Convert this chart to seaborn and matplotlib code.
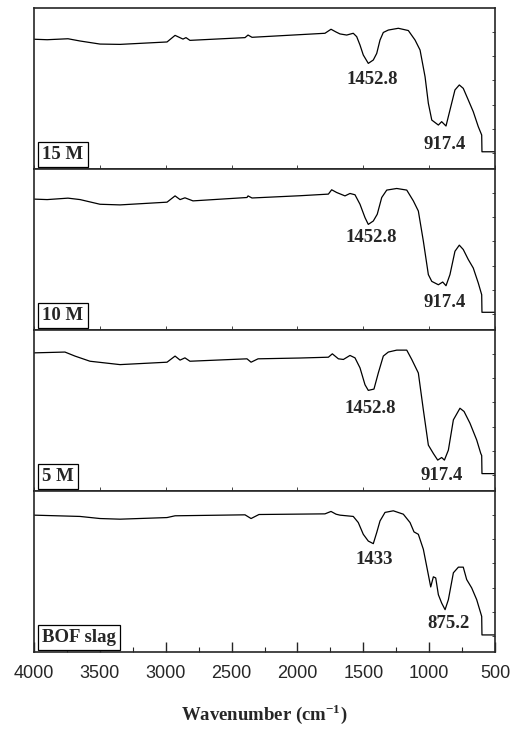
import numpy as np
import pandas as pd
import matplotlib
matplotlib.use("Agg")
import matplotlib.pyplot as plt
from matplotlib.ticker import MultipleLocator
import seaborn as sns

# ---------------- data ----------------
panel_labels = ["15 M", "10 M", "5 M", "BOF slag"]

wn_15m = [4000, 3900, 3742, 3650, 3499, 3347, 2990, 2929, 2869, 2846, 2816, 2398, 2375, 2345,
          1791, 1745, 1707, 1677, 1626, 1576, 1550, 1525, 1500, 1462, 1424, 1398, 1373,
          1348, 1310, 1234, 1158, 1107, 1069, 1031, 1006, 980, 930, 905, 872, 842, 804,
          771, 741, 703, 665, 627, 601, 599, 500]
t_15m = [80.6, 80.3, 80.9, 79.5, 77.6, 77.4, 78.9, 83.0, 80.7, 81.6, 79.9, 81.6, 83.2, 81.8,
         84.3, 86.8, 85.1, 83.9, 83.2, 84.3, 82.2, 77.0, 70.8, 65.6, 67.7, 71.8, 80.1,
         84.8, 86.3, 87.4, 86.0, 80.1, 73.9, 57.3, 40.8, 30.4, 27.3, 29.4, 26.7, 36.6,
         49.1, 52.2, 50.1, 42.9, 35.6, 26.3, 21.1, 10.7, 10.7]

wn_10m = [4000, 3900, 3742, 3650, 3499, 3347, 2990, 2929, 2891, 2854, 2793, 2383, 2375, 2345,
          1980, 1765, 1740, 1702, 1639, 1601, 1563, 1525, 1487, 1462, 1424, 1394, 1360,
          1322, 1246, 1170, 1120, 1082, 1044, 1006, 980, 930, 897, 872, 842, 804, 771,
          741, 703, 665, 627, 601, 599, 500]
t_10m = [81.3, 81.0, 81.9, 81.0, 78.1, 77.7, 79.4, 83.3, 81.0, 82.1, 80.2, 82.3, 83.3, 82.0,
         83.4, 84.4, 87.1, 85.4, 83.3, 84.8, 84.0, 78.1, 69.8, 65.6, 67.7, 71.9, 82.3,
         86.9, 87.9, 86.9, 80.2, 73.9, 55.2, 34.4, 30.2, 28.1, 29.8, 27.5, 34.4, 48.9,
         52.7, 50.0, 43.8, 38.5, 29.2, 21.9, 11.0, 11.0]

wn_5m = [4000, 3765, 3689, 3575, 3347, 2990, 2929, 2891, 2854, 2816, 2383, 2352, 2299,
         1980, 1765, 1735, 1689, 1651, 1601, 1563, 1525, 1487, 1462, 1419, 1386, 1348,
         1310, 1246, 1170, 1132, 1082, 1044, 1006, 968, 935, 905, 884, 854, 816, 766,
         735, 690, 639, 608, 601, 599, 500]
t_5m = [85.8, 86.3, 83.8, 80.6, 78.5, 80.0, 83.8, 81.3, 82.7, 80.6, 82.1, 80.0, 82.1,
        82.6, 83.1, 85.2, 82.1, 81.7, 84.2, 82.7, 76.5, 66.0, 62.5, 63.3, 73.3, 83.8,
        86.3, 87.5, 87.5, 81.7, 73.3, 50.4, 28.5, 23.3, 19.2, 20.8, 19.2, 25.4, 44.2,
        51.4, 49.4, 42.1, 31.7, 23.3, 22.0, 10.8, 10.8]

wn_bof = [4000, 3651, 3499, 3347, 2990, 2929, 2398, 2352, 2292, 1791, 1745, 1707, 1677,
          1576, 1538, 1500, 1462, 1424, 1398, 1373, 1335, 1272, 1196, 1145, 1115, 1082,
          1044, 1014, 988, 968, 950, 930, 905, 879, 854, 816, 778, 741, 715, 677, 639,
          601, 599, 500]
t_bof = [85.0, 84.2, 82.9, 82.5, 83.5, 84.6, 85.2, 82.9, 85.4, 85.8, 87.3, 85.6, 85.0,
         84.2, 80.4, 73.1, 68.9, 67.3, 74.2, 81.4, 86.7, 87.7, 85.6, 80.4, 74.6, 73.1,
         63.8, 51.3, 40.4, 46.7, 46.0, 35.6, 30.4, 26.3, 32.5, 49.2, 52.7, 52.7, 45.0,
         39.8, 32.5, 22.1, 10.6, 10.6]

# peak annotations: (text, wavenumber, value) per panel
peak_text = [["1452.8", "917.4"], ["1452.8", "917.4"], ["1452.8", "917.4"], ["1433", "875.2"]]
peak_wn = [[1434, 880], [1441, 880], [1449, 905], [1419, 851]]
peak_y = [[55.9, 15.5], [57.3, 17.1], [51.0, 9.4], [57.5, 17.9]]

x_ticks = [4000, 3500, 3000, 2500, 2000, 1500, 1000, 500]

# ---------------- plotting ----------------
sns.set_style("ticks")
plt.rcParams["font.family"] = ["Liberation Serif", "DejaVu Serif"]
plt.rcParams["mathtext.fontset"] = "custom"
plt.rcParams["mathtext.rm"] = "Liberation Serif"
plt.rcParams["mathtext.bf"] = "Liberation Serif:bold"

fig = plt.figure(figsize=(5.12, 7.30), dpi=100)

series = [(wn_15m, t_15m), (wn_10m, t_10m), (wn_5m, t_5m), (wn_bof, t_bof)]
left, width = 34 / 512, 461 / 512
tops_px = [8, 169, 330, 491]
h_px = 161

serif_bold = dict(family=["Liberation Serif", "DejaVu Serif"], weight="bold", size=13.5)

for i, ((wn, tv), lab) in enumerate(zip(series, panel_labels)):
    bottom = 1 - (tops_px[i] + h_px) / 730
    ax = fig.add_axes([left, bottom, width, h_px / 730])
    df = pd.DataFrame({"wn": wn, "T": tv})
    sns.lineplot(data=df, x="wn", y="T", ax=ax, color="black", linewidth=0.9,
                 sort=False, estimator=None)
    ax.set_xlim(4000, 500)
    ax.set_ylim(0, 100)
    ax.set_xlabel("")
    ax.set_ylabel("")
    ax.set_yticks([10, 25, 40, 55, 70, 85])
    ax.tick_params(axis="y", which="both", direction="in", left=False, right=True,
                   labelleft=False, length=2.5, width=0.6)
    ax.xaxis.set_major_locator(MultipleLocator(500))
    ax.xaxis.set_minor_locator(MultipleLocator(250))
    for s in ax.spines.values():
        s.set_linewidth(1.2)
        s.set_visible(True)
    if i < 3:
        ax.tick_params(axis="x", which="major", direction="in", length=3, width=0.6,
                       labelbottom=False)
        ax.tick_params(axis="x", which="minor", direction="in", length=0)
    else:
        ax.set_xticks(x_ticks)
        ax.set_xticklabels([str(v) for v in x_ticks],
                           fontfamily=["Liberation Sans", "DejaVu Sans"], fontsize=13)
        ax.tick_params(axis="x", which="major", direction="in", length=7, width=1.0, pad=9)
        ax.tick_params(axis="x", which="minor", direction="in", length=3.5, width=0.8)
        ax.set_xlabel("Wavenumber (cm$^{\\mathbf{-1}}$)", fontdict=serif_bold, labelpad=15)
    # panel label in box
    ax.text(0.018, 0.035, lab, transform=ax.transAxes, ha="left", va="bottom",
            fontdict=serif_bold,
            bbox=dict(boxstyle="square,pad=0.22", facecolor="white", edgecolor="black",
                      linewidth=0.9))
    for txt, xw, yv in zip(peak_text[i], peak_wn[i], peak_y[i]):
        ax.text(xw, yv, txt, ha="center", va="center", fontdict=serif_bold)

fig.savefig("out.png", dpi=100)
